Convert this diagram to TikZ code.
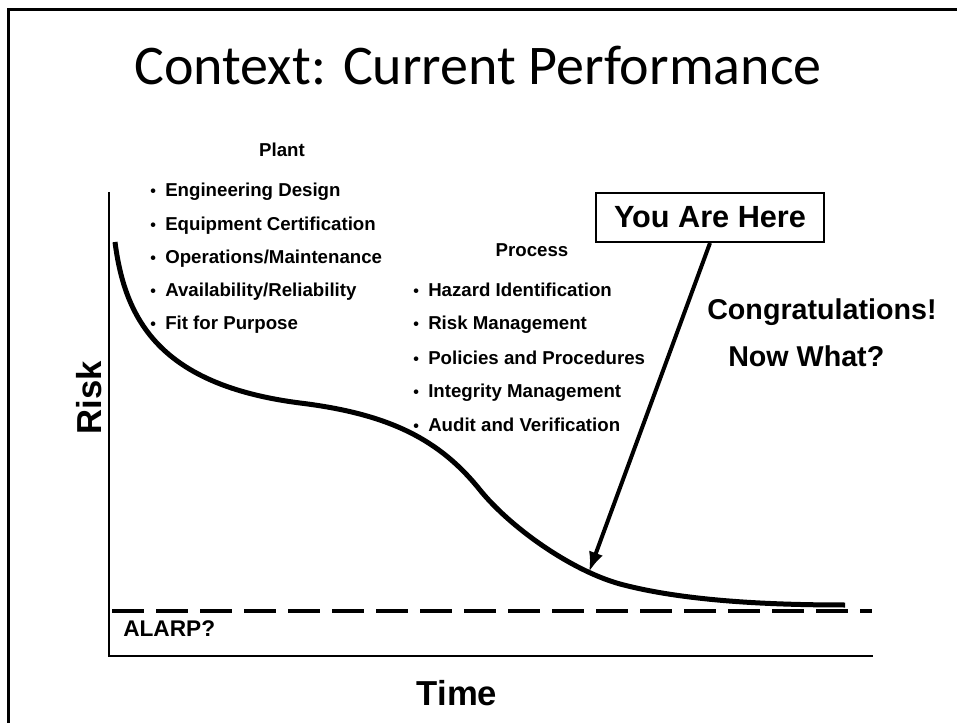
\documentclass[tikz,border=0pt]{standalone}
\usepackage{fontspec}
\setmainfont{Liberation Sans}
\newfontfamily\slidetitle{Carlito}
\usetikzlibrary{arrows.meta}

% small bullet in front of a list entry
\newcommand{\bul}{\makebox[11.25pt][l]{\fontsize{12}{12}\selectfont•}}

\begin{document}
\begin{tikzpicture}[x=0.75pt,y=-0.75pt,
                every path/.style={>={Latex[length=15pt,width=11pt]}},every node/.style={inner sep=0pt},
                item/.style={anchor=base west,font=\bfseries\fontsize{14}{16}\selectfont},
                heading/.style={anchor=base,font=\bfseries\fontsize{14}{16}\selectfont},
                axislabel/.style={anchor=base,font=\bfseries\fontsize{26}{30}\selectfont},
                remark/.style={anchor=base west,font=\bfseries\fontsize{21.5}{25}\selectfont}]
  \useasboundingbox (0,0) rectangle (957,723);
  % slide frame, cut off on the right and at the bottom
  \draw[line width=2.25pt] (8,10) rectangle (1000,800);
  \node[anchor=base,font=\slidetitle\fontsize{42}{48}\selectfont] (title) at (478,85) {Context: Current Performance};
  % axes
  \coordinate (origin) at (109,656);
  \coordinate (ytop) at (109,192);
  \coordinate (xend) at (873,656);
  \draw[line width=1.5pt] (ytop) -- (origin) -- (xend);
  \node[axislabel,rotate=90] (risk) at (101,398) {Risk};
  \node[axislabel] (time) at (457,705) {Time};
  % ALARP level
  \coordinate (alarpl) at (112,611);
  \coordinate (alarpr) at (872,611);
  \draw[line width=3pt,dash pattern=on 24pt off 9pt] (alarpl) -- (alarpr);
  \node[anchor=base west,font=\bfseries\fontsize{17}{20}\selectfont] (alarp) at (123,636) {ALARP?};
  % risk curve
  \draw[line width=3.75pt] (115,242) .. controls (125,320) and (160,385) .. (300,403)
                           .. controls (390,414) and (440,440) .. (480,490)
                           .. controls (510,527) and (570,570) .. (620,584)
                           .. controls (680,600) and (760,605) .. (845,605);
  \coordinate (tip) at (589,572);
  % plant measures
  \node[heading] (plant) at (282,157) {Plant};
  \node[item] (p1) at (150,197) {\bul Engineering Design};
  \node[item] (p2) at (150,231) {\bul Equipment Certification};
  \node[item] (p3) at (150,264) {\bul Operations/Maintenance};
  \node[item] (p4) at (150,297) {\bul Availability/Reliability};
  \node[item] (p5) at (150,330) {\bul Fit for Purpose};
  % process measures
  \node[heading] (process) at (532,257) {Process};
  \node[item] (q1) at (413,297) {\bul Hazard Identification};
  \node[item] (q2) at (413,330) {\bul Risk Management};
  \node[item] (q3) at (413,365) {\bul Policies and Procedures};
  \node[item] (q4) at (413,398) {\bul Integrity Management};
  \node[item] (q5) at (413,432) {\bul Audit and Verification};
  % marker
  \node[draw,line width=1.5pt,minimum width=171pt,minimum height=36.75pt,
        font=\bfseries\fontsize{23}{27}\selectfont] (here) at (710,217.5) {You Are Here};
  \draw[->,line width=3pt] (here.south) -- (tip);
  \node[remark] (congrats) at (707,320) {Congratulations!};
  \node[remark] (nowwhat) at (728,367) {Now What?};
\end{tikzpicture}
\end{document}
